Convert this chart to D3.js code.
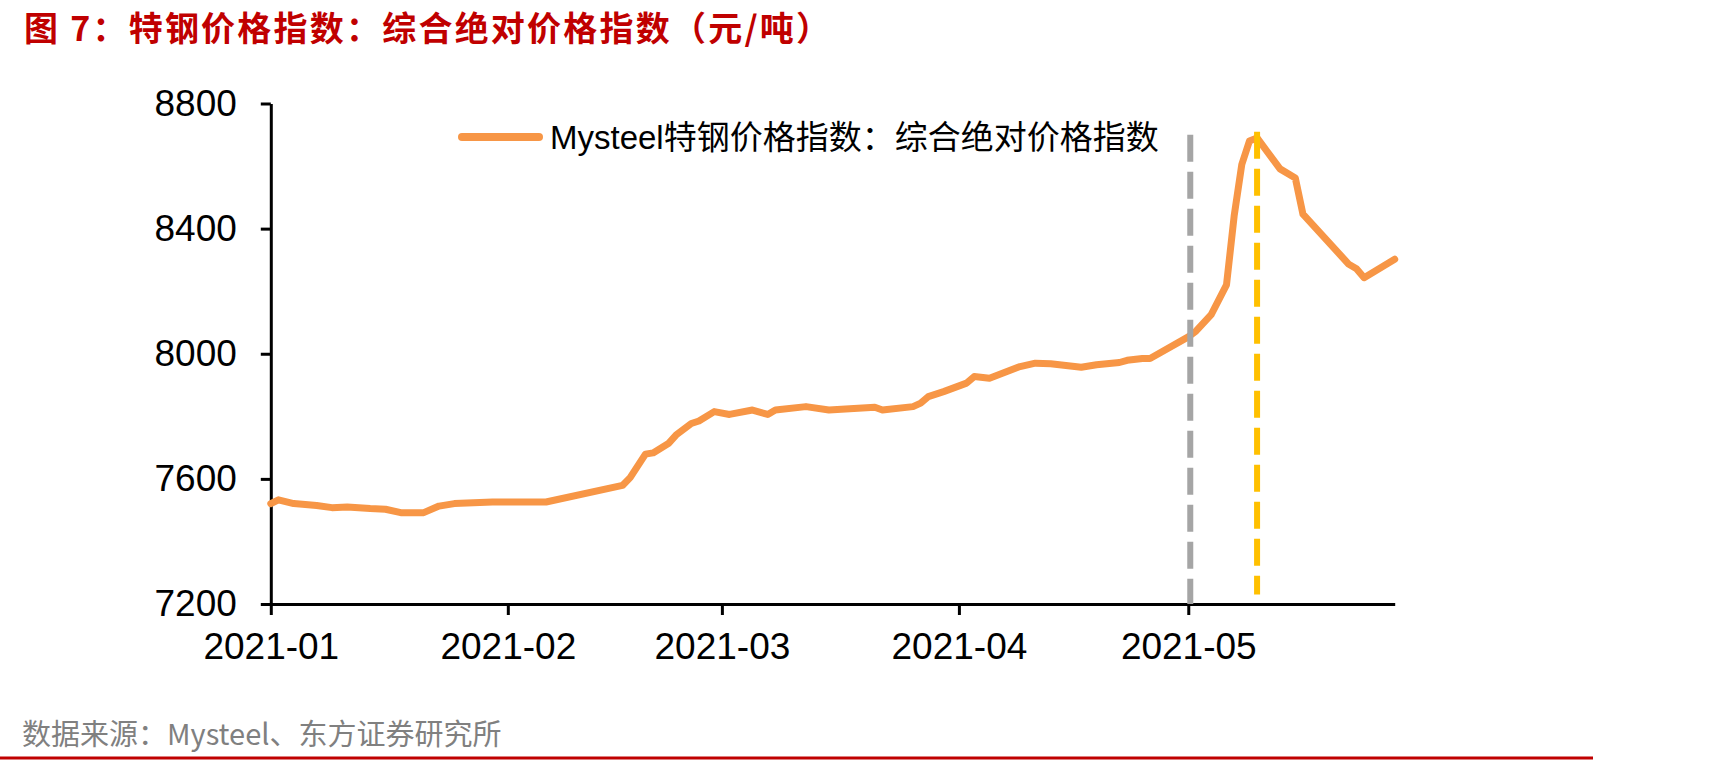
<!DOCTYPE html>
<html>
<head>
<meta charset="utf-8">
<script src="https://cdn.jsdelivr.net/npm/d3@7"></script>
<style>
  html, body { margin: 0; padding: 0; background: #ffffff; }
  svg { display: block; }
</style>
</head>
<body>
<svg id="chart" width="1726" height="765"></svg>
<script>
// ---- data ----
const titleText = "图 7：特钢价格指数：综合绝对价格指数（元/吨）";
const seriesName = "Mysteel特钢价格指数：综合绝对价格指数";
const sourceText = "数据来源：Mysteel、东方证券研究所";

const dates = [
  "2021-01-01","2021-01-02","2021-01-04","2021-01-07","2021-01-09","2021-01-11",
  "2021-01-14","2021-01-16","2021-01-18","2021-01-21","2021-01-23","2021-01-25",
  "2021-01-30","2021-02-06","2021-02-16","2021-02-17","2021-02-19","2021-02-20",
  "2021-02-22","2021-02-23","2021-02-25","2021-02-26","2021-02-28","2021-03-02",
  "2021-03-05","2021-03-07","2021-03-08","2021-03-12","2021-03-15","2021-03-21",
  "2021-03-22","2021-03-26","2021-03-27","2021-03-28","2021-03-30","2021-04-02",
  "2021-04-03","2021-04-05","2021-04-09","2021-04-11","2021-04-13","2021-04-17",
  "2021-04-19","2021-04-22","2021-04-23","2021-04-25","2021-04-26","2021-05-01",
  "2021-05-02","2021-05-04","2021-05-06","2021-05-07","2021-05-08","2021-05-09",
  "2021-05-10","2021-05-13","2021-05-15","2021-05-16","2021-05-22","2021-05-23",
  "2021-05-24","2021-05-28"
];
const values = [
  7521, 7533, 7521, 7515, 7508, 7510,
  7505, 7503, 7492, 7492, 7513, 7521,
  7526, 7526, 7579, 7604, 7679, 7683,
  7713, 7740, 7777, 7785, 7815, 7806,
  7820, 7806, 7820, 7831, 7820, 7829,
  7820, 7831, 7842, 7863, 7879, 7906,
  7927, 7922, 7959, 7970, 7968, 7957,
  7965, 7972, 7979, 7985, 7985, 8054,
  8072, 8125, 8220, 8440, 8605, 8680,
  8690, 8591, 8562, 8446, 8286, 8272,
  8243, 8302
];

const xDomain = ["2021-01-01", "2021-05-28"];
const xTickDates = ["2021-01-01","2021-02-01","2021-03-01","2021-04-01","2021-05-01"];
const xTickLabels = ["2021-01","2021-02","2021-03","2021-04","2021-05"];
const yTicks = [7200, 7600, 8000, 8400, 8800];
const yDomain = [7200, 8800];

// vertical reference markers
const markerDates = ["2021-05-01", "2021-05-10"];
const markerTop = [8700, 8710];
const markerBottom = [7200, 7230];

// ---- drawing ----
const parse = d3.timeParse("%Y-%m-%d");
const svg = d3.select("#chart");
const W = 1726, H = 765;
svg.append("rect").attr("width", W).attr("height", H).attr("fill", "#ffffff");

const x = d3.scaleTime().domain(xDomain.map(parse)).range([270.8, 1394.7]);
const y = d3.scaleLinear().domain(yDomain).range([604, 103.5]);

const latin = "'Liberation Sans', Arial, 'Noto Sans CJK SC', sans-serif";
const cjk = "'Noto Sans CJK SC', 'Liberation Sans', sans-serif";

// title
svg.append("text")
  .attr("x", 24).attr("y", 41)
  .attr("fill", "#C00000")
  .attr("font-family", cjk)
  .attr("font-weight", "bold")
  .attr("font-size", 34)
  .attr("textLength", 806)
  .attr("lengthAdjust", "spacing")
  .text(titleText);

// y axis
const yAxis = d3.axisLeft(y).tickValues(yTicks).tickSize(10).tickPadding(24).tickSizeOuter(0)
  .tickFormat(d3.format("d"));
const gy = svg.append("g").attr("transform", `translate(${x.range()[0]},0)`).call(yAxis);
gy.select(".domain").attr("stroke", "#000").attr("stroke-width", 3);
gy.selectAll(".tick line").attr("stroke", "#000").attr("stroke-width", 3);
gy.selectAll(".tick text").attr("font-family", latin).attr("font-size", 37).attr("fill", "#000");

// x axis
const xAxis = d3.axisBottom(x).tickValues(xTickDates.map(parse)).tickSize(11).tickPadding(18).tickSizeOuter(0)
  .tickFormat((d, i) => xTickLabels[i]);
const gx = svg.append("g").attr("transform", `translate(0,${y.range()[0]})`).call(xAxis);
gx.select(".domain").attr("stroke", "#000").attr("stroke-width", 3);
gx.selectAll(".tick line").attr("stroke", "#000").attr("stroke-width", 3);
gx.selectAll(".tick text").attr("font-family", latin).attr("font-size", 37).attr("fill", "#000");

// series line
const data = dates.map((d, i) => ({ date: parse(d), value: values[i] }));
const line = d3.line().x(d => x(d.date)).y(d => y(d.value));
svg.append("path")
  .datum(data)
  .attr("d", line)
  .attr("fill", "none")
  .attr("stroke", "#F79646")
  .attr("stroke-width", 7)
  .attr("stroke-linejoin", "round")
  .attr("stroke-linecap", "round");

// markers
const markerColors = ["#A5A5A5", "#FFC000"];
markerDates.forEach((d, i) => {
  const xd = x(parse(d)) + (i === 0 ? 2 : 0);
  svg.append("line")
    .attr("x1", xd).attr("x2", xd)
    .attr("y1", y(markerTop[i])).attr("y2", y(markerBottom[i]))
    .attr("stroke", markerColors[i])
    .attr("stroke-width", 6)
    .attr("stroke-dasharray", "27 10");
});

// legend
svg.append("line")
  .attr("x1", 462).attr("x2", 539).attr("y1", 137).attr("y2", 137)
  .attr("stroke", "#F79646").attr("stroke-width", 8).attr("stroke-linecap", "round");
svg.append("text")
  .attr("x", 550).attr("y", 137)
  .attr("dominant-baseline", "central")
  .attr("font-family", latin)
  .attr("font-size", 33)
  .attr("fill", "#000")
  .text(seriesName);

// source
svg.append("text")
  .attr("x", 22).attr("y", 745)
  .attr("font-family", cjk)
  .attr("font-size", 29)
  .attr("fill", "#808080")
  .text(sourceText);

// bottom rule
svg.append("line")
  .attr("x1", 0).attr("x2", 1593).attr("y1", 758).attr("y2", 758)
  .attr("stroke", "#C00000").attr("stroke-width", 3);
</script>
</body>
</html>
